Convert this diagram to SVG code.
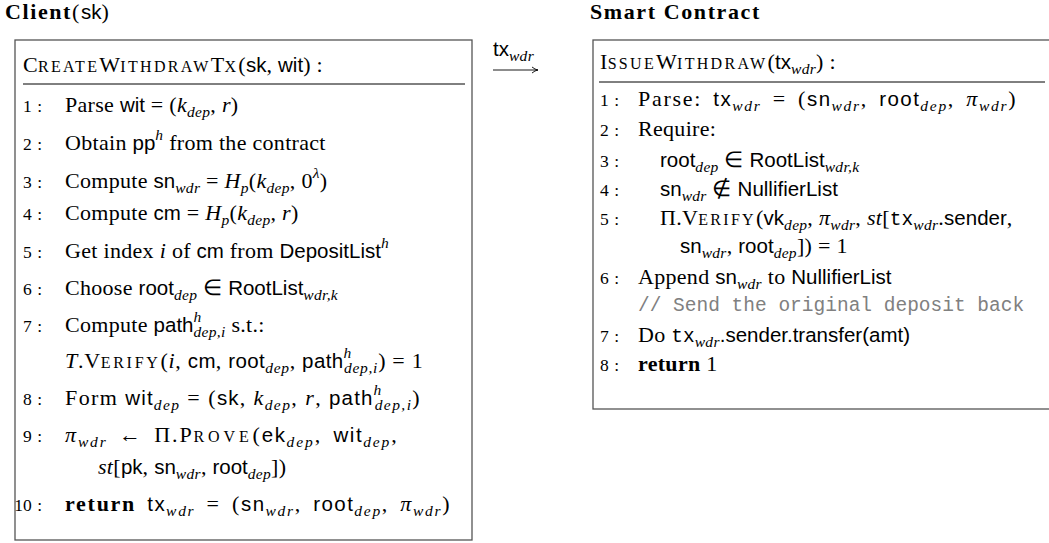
<svg xmlns="http://www.w3.org/2000/svg" width="1049" height="543" viewBox="0 0 1049 543">
<style>
text{font-family:"Liberation Serif",serif;font-size:22px;fill:#000;letter-spacing:0.3px}
.sf{font-family:"Liberation Sans",sans-serif;font-size:20.5px;letter-spacing:0}
.it{font-style:italic}
.sub{font-size:15.5px;letter-spacing:0.3px}
.scb{font-size:22px}
.scs{font-size:16px;letter-spacing:2.3px}
.tt{font-family:"Liberation Mono",monospace;font-size:19.5px;letter-spacing:0}
.cm{font-family:"Liberation Mono",monospace;font-size:19.5px;fill:#808080;letter-spacing:0}
.bf{font-weight:bold}
.num{text-anchor:end;font-size:17.5px;letter-spacing:0;word-spacing:1px}
.ttl{font-size:22px;letter-spacing:1.6px}
.ws{word-spacing:4px}
.box{fill:#fff;stroke:#555;stroke-width:1.3}
.rule{stroke:#000;stroke-width:1}
</style>
<defs>
<marker id="ah" markerWidth="8" markerHeight="8" refX="7" refY="4" orient="auto" markerUnits="userSpaceOnUse">
<path d="M1,1 Q4,3.5 7,4 Q4,4.5 1,7" fill="none" stroke="#000" stroke-width="0.9"/>
</marker>
</defs>

<g id="client">
<text x="5" y="19" class="ttl"><tspan class="bf">Client</tspan>(<tspan class="sf" font-size="21">sk</tspan>)</text>
<rect class="box" x="15" y="40" width="457" height="500"/>
<line class="rule" x1="23" y1="84" x2="465" y2="84"/>
<text x="23" y="72"><tspan class="scb">C</tspan><tspan class="scs">REATE</tspan><tspan class="scb">W</tspan><tspan class="scs">ITHDRAW</tspan><tspan class="scb">T</tspan><tspan class="scs">X</tspan>(<tspan class="sf">sk</tspan>, <tspan class="sf">wit</tspan>) :</text>

<text class="num" x="42" y="112">1 :</text>
<text x="65" y="112">Parse <tspan class="sf">wit</tspan> = (<tspan class="it">k</tspan><tspan class="sub it" dy="5">dep</tspan><tspan dy="-5">, </tspan><tspan class="it">r</tspan>)</text>

<text class="num" x="42" y="150">2 :</text>
<text x="65" y="150">Obtain <tspan class="sf">pp</tspan><tspan class="sub it" dy="-10">h</tspan><tspan dy="10"> from the contract</tspan></text>

<text class="num" x="42" y="188">3 :</text>
<text x="65" y="188">Compute <tspan class="sf">sn</tspan><tspan class="sub it" dy="5">wdr</tspan><tspan dy="-5"> = </tspan><tspan class="it">H</tspan><tspan class="sub it" dy="5">p</tspan><tspan dy="-5">(</tspan><tspan class="it">k</tspan><tspan class="sub it" dy="5">dep</tspan><tspan dy="-5">, 0</tspan><tspan class="sub it" dy="-10">λ</tspan><tspan dy="10">)</tspan></text>

<text class="num" x="42" y="220">4 :</text>
<text x="65" y="220">Compute <tspan class="sf">cm</tspan> = <tspan class="it">H</tspan><tspan class="sub it" dy="5">p</tspan><tspan dy="-5">(</tspan><tspan class="it">k</tspan><tspan class="sub it" dy="5">dep</tspan><tspan dy="-5">, </tspan><tspan class="it">r</tspan>)</text>

<text class="num" x="42" y="258">5 :</text>
<text x="65" y="258">Get index <tspan class="it">i</tspan> of <tspan class="sf">cm</tspan> from <tspan class="sf">DepositList</tspan><tspan class="sub it" dy="-10">h</tspan></text>

<text class="num" x="42" y="295">6 :</text>
<text x="65" y="295">Choose <tspan class="sf">root</tspan><tspan class="sub it" dy="5">dep</tspan><tspan dy="-5"> ∈ </tspan><tspan class="sf">RootList</tspan><tspan class="sub it" dy="5">wdr,k</tspan></text>

<text class="num" x="42" y="332">7 :</text>
<text x="65" y="332">Compute <tspan class="sf">path</tspan><tspan class="sub it" dy="-10">h</tspan><tspan class="sub it" dx="-8" dy="15">dep,i</tspan><tspan dy="-5"> s.t.:</tspan></text>
<text x="65" y="368" textLength="358"><tspan class="it">T</tspan>.<tspan class="scb">V</tspan><tspan class="scs">ERIFY</tspan>(<tspan class="it">i</tspan>, <tspan class="sf">cm</tspan>, <tspan class="sf">root</tspan><tspan class="sub it" dy="5">dep</tspan><tspan dy="-5">, </tspan><tspan class="sf">path</tspan><tspan class="sub it" dy="-10">h</tspan><tspan class="sub it" dx="-8" dy="15">dep,i</tspan><tspan dy="-5">) = 1</tspan></text>

<text class="num" x="42" y="405">8 :</text>
<text x="65" y="405" textLength="355">Form <tspan class="sf">wit</tspan><tspan class="sub it" dy="5">dep</tspan><tspan dy="-5"> = (</tspan><tspan class="sf">sk</tspan>, <tspan class="it">k</tspan><tspan class="sub it" dy="5">dep</tspan><tspan dy="-5">, </tspan><tspan class="it">r</tspan>, <tspan class="sf">path</tspan><tspan class="sub it" dy="-10">h</tspan><tspan class="sub it" dx="-8" dy="15">dep,i</tspan><tspan dy="-5">)</tspan></text>

<text class="num" x="42" y="442">9 :</text>
<text x="65" y="442" class="ws" textLength="332"><tspan class="it">π</tspan><tspan class="sub it" dy="5">wdr</tspan><tspan dy="-5"> ← Π.</tspan><tspan class="scb">P</tspan><tspan class="scs">ROVE</tspan>(<tspan class="sf">ek</tspan><tspan class="sub it" dy="5">dep</tspan><tspan dy="-5">, </tspan><tspan class="sf">wit</tspan><tspan class="sub it" dy="5">dep</tspan><tspan dy="-5">,</tspan></text>
<text x="98" y="474"><tspan class="it">st</tspan>[<tspan class="sf">pk</tspan>, <tspan class="sf">sn</tspan><tspan class="sub it" dy="5">wdr</tspan><tspan dy="-5">, </tspan><tspan class="sf">root</tspan><tspan class="sub it" dy="5">dep</tspan><tspan dy="-5">])</tspan></text>

<text class="num" x="42" y="511">10 :</text>
<text x="65" y="511" class="ws" textLength="385"><tspan class="bf">return</tspan> <tspan class="sf">tx</tspan><tspan class="sub it" dy="5">wdr</tspan><tspan dy="-5"> = (</tspan><tspan class="sf">sn</tspan><tspan class="sub it" dy="5">wdr</tspan><tspan dy="-5">, </tspan><tspan class="sf">root</tspan><tspan class="sub it" dy="5">dep</tspan><tspan dy="-5">, </tspan><tspan class="it">π</tspan><tspan class="sub it" dy="5">wdr</tspan><tspan dy="-5">)</tspan></text>
</g>

<g id="contract">
<text x="590" y="19" class="ttl bf">Smart Contract</text>
<rect class="box" x="593" y="40" width="470" height="369"/>
<line class="rule" x1="599" y1="82" x2="1045" y2="82"/>
<text x="600" y="69"><tspan class="scb">I</tspan><tspan class="scs">SSUE</tspan><tspan class="scb">W</tspan><tspan class="scs">ITHDRAW</tspan>(<tspan class="sf">tx</tspan><tspan class="sub it" dy="5">wdr</tspan><tspan dy="-5">) :</tspan></text>

<text class="num" x="619" y="106">1 :</text>
<text x="638" y="106" class="ws" textLength="378">Parse: <tspan class="sf">tx</tspan><tspan class="sub it" dy="5">wdr</tspan><tspan dy="-5"> = (</tspan><tspan class="sf">sn</tspan><tspan class="sub it" dy="5">wdr</tspan><tspan dy="-5">, </tspan><tspan class="sf">root</tspan><tspan class="sub it" dy="5">dep</tspan><tspan dy="-5">, </tspan><tspan class="it">π</tspan><tspan class="sub it" dy="5">wdr</tspan><tspan dy="-5">)</tspan></text>

<text class="num" x="619" y="136">2 :</text>
<text x="638" y="136">Require:</text>

<text class="num" x="619" y="167">3 :</text>
<text x="660" y="167"><tspan class="sf">root</tspan><tspan class="sub it" dy="5">dep</tspan><tspan dy="-5"> ∈ </tspan><tspan class="sf">RootList</tspan><tspan class="sub it" dy="5">wdr,k</tspan></text>

<text class="num" x="619" y="196">4 :</text>
<text x="660" y="196"><tspan class="sf">sn</tspan><tspan class="sub it" dy="5">wdr</tspan><tspan dy="-5"> ∉ </tspan><tspan class="sf">NullifierList</tspan></text>

<text class="num" x="619" y="225">5 :</text>
<text x="660" y="225">Π.<tspan class="scb">V</tspan><tspan class="scs">ERIFY</tspan>(<tspan class="sf">vk</tspan><tspan class="sub it" dy="5">dep</tspan><tspan dy="-5">, </tspan><tspan class="it">π</tspan><tspan class="sub it" dy="5">wdr</tspan><tspan dy="-5">, </tspan><tspan class="it">st</tspan>[<tspan class="tt">tx</tspan><tspan class="sub it" dy="5">wdr</tspan><tspan dy="-5">.</tspan><tspan class="sf">sender</tspan>,</text>
<text x="680" y="253"><tspan class="sf">sn</tspan><tspan class="sub it" dy="5">wdr</tspan><tspan dy="-5">, </tspan><tspan class="sf">root</tspan><tspan class="sub it" dy="5">dep</tspan><tspan dy="-5">]) = 1</tspan></text>

<text class="num" x="619" y="284">6 :</text>
<text x="638" y="284">Append <tspan class="sf">sn</tspan><tspan class="sub it" dy="5">wdr</tspan><tspan dy="-5"> to </tspan><tspan class="sf">NullifierList</tspan></text>
<text x="638" y="311" class="cm">// Send the original deposit back</text>

<text class="num" x="619" y="342">7 :</text>
<text x="638" y="342">Do <tspan class="tt">tx</tspan><tspan class="sub it" dy="5">wdr</tspan><tspan dy="-5" class="sf">.sender.transfer(amt)</tspan></text>

<text class="num" x="619" y="371">8 :</text>
<text x="638" y="371"><tspan class="bf">return</tspan> 1</text>
</g>

<g id="connectors">
<text x="493" y="56"><tspan class="sf">tx</tspan><tspan class="sub it" dy="5">wdr</tspan></text>
<line x1="493" y1="70" x2="538" y2="70" stroke="#000" stroke-width="0.9" marker-end="url(#ah)"/>
</g>
</svg>
